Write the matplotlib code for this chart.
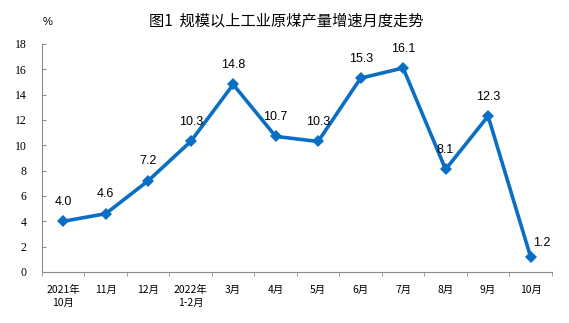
import matplotlib.pyplot as plt
from matplotlib.ticker import FixedLocator

plt.rcParams['font.family'] = ['Noto Sans CJK SC', 'DejaVu Sans']

months = ["2021年\n10月", "11月", "12月", "2022年\n1-2月", "3月", "4月",
          "5月", "6月", "7月", "8月", "9月", "10月"]
growth = [4.0, 4.6, 7.2, 10.3, 14.8, 10.7, 10.3, 15.3, 16.1, 8.1, 12.3, 1.2]
yticks = [0, 2, 4, 6, 8, 10, 12, 14, 16, 18]

blue = "#0a6fc2"
axis_gray = "#8c8c8c"

fig = plt.figure(figsize=(5.69, 3.23), dpi=100)
ax = fig.add_axes([0.0738, 0.158, 0.896, 0.706])

x = list(range(len(months)))
ax.plot(x, growth, color=blue, linewidth=2.6, marker="D", markersize=6,
        markerfacecolor=blue, markeredgewidth=0)

# value labels, the last one sits up and to the right of its point
for i, v in enumerate(growth):
    off = (8, 10) if i == len(growth) - 1 else (0, 14)
    ax.annotate("%.1f" % v, (i, v), xytext=off, textcoords="offset points",
                ha="center", va="center", fontsize=9, family="Liberation Sans")

ax.set_xlim(-0.5, len(months) - 0.5)
ax.set_ylim(0, 18)
ax.set_yticks(yticks)
ax.set_yticklabels([str(t) for t in yticks], family="Liberation Serif", fontsize=8.5)
ax.tick_params(axis="y", direction="in", length=3, color=axis_gray, pad=11)

ax.set_xticks(x)
ax.set_xticklabels(months, fontsize=7.5, linespacing=1.45)
ax.tick_params(axis="x", length=0, pad=9)
ax.xaxis.set_minor_locator(FixedLocator([i - 0.5 for i in range(len(months) + 1)]))
ax.tick_params(axis="x", which="minor", direction="out", length=3, color=axis_gray)

for s in ["top", "right"]:
    ax.spines[s].set_visible(False)
for s in ["left", "bottom"]:
    ax.spines[s].set_color(axis_gray)
    ax.spines[s].set_linewidth(0.8)

fig.text(0.503, 0.935, "图1  规模以上工业原煤产量增速月度走势", ha="center", va="center",
         fontsize=11)
fig.text(0.083, 0.932, "%", ha="center", va="center", fontsize=8,
         family="Liberation Sans")

fig.savefig("out.png", dpi=100)
